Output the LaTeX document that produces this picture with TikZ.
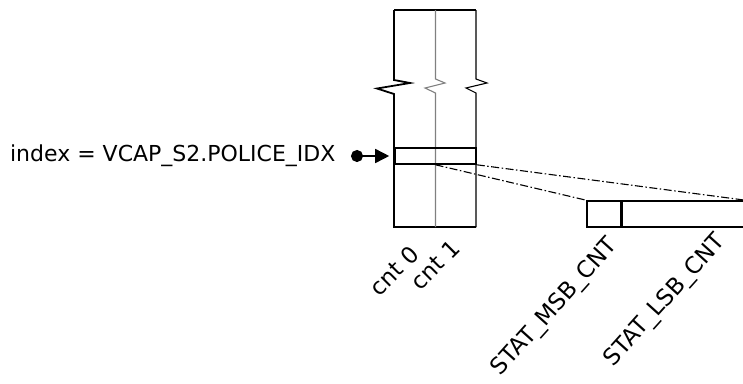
\documentclass[tikz,border=0pt]{standalone}
\usepackage{fontspec}
\setmainfont{DejaVu Sans}
\usetikzlibrary{arrows.meta, positioning}

\begin{document}
\begin{tikzpicture}[
    x=1pt, y=-1pt,
    font=\fontsize{22}{26}\selectfont,
    field/.style={rectangle, draw, line width=1.6pt, inner sep=0pt},
    frame/.style={line width=1.8pt},
    rowline/.style={line width=1.1pt},
    midline/.style={line width=1.1pt, black!50},
    link/.style={line width=1.1pt, dash pattern=on 8pt off 2.5pt on 1.5pt off 2.5pt},
    ptr/.style={{Circle[length=12pt]}-{Triangle[length=14pt,width=14pt]}, line width=1.6pt},
    tag/.style={rotate=45, anchor=east, inner sep=0pt, font=\fontsize{23}{27}\selectfont}
]
\useasboundingbox (0,0) rectangle (743,383);

% counter table
\draw[line width=1.3pt] (394,10) -- (476,10);
\draw[frame] (394,10) -- (394,80) -- (410,83) -- (377,88.5) -- (394,94) -- (394,227) -- (476,227);
\draw[midline] (435.5,10) -- (435.5,79) -- (445,83) -- (425,88) -- (435.5,93) -- (435.5,227);
\draw[rowline] (476,10) -- (476,79) -- (487,83) -- (466,88) -- (476,93) -- (476,227);

\node[field, minimum width=81pt, minimum height=16pt] (row) at (435.5,156) {};

% statistics register
\node[field, minimum width=34pt, minimum height=26pt] (msb) at (604,214) {};
\node[field, minimum width=122pt, minimum height=26pt, right=0pt of msb] (lsb) {};

\draw[link] (row.south) -- (msb.north west);
\draw[link] (row.south east) -- (lsb.north east);

% index pointer
\node[anchor=east] (index) at (339,156) {index = VCAP\_S2.POLICE\_IDX};
\coordinate (dot) at (351,156);
\draw[ptr] (dot) -- ([xshift=-5pt]row.west);

% labels
\node[tag] (cnt0) at (415,250) {cnt 0};
\node[tag] (cnt1) at (456,244) {cnt 1};
\node[tag, rotate=3] (msbtag) at (614,242) {STAT\_MSB\_CNT};
\node[tag, rotate=3] (lsbtag) at (722,238) {STAT\_LSB\_CNT};

\end{tikzpicture}
\end{document}
